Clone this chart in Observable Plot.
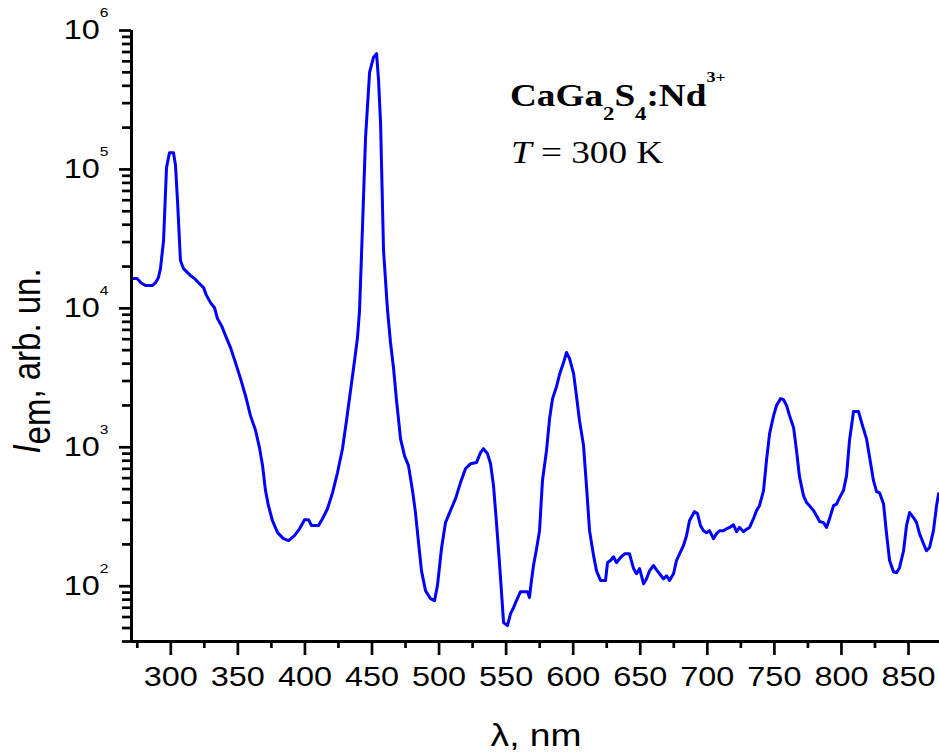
<!DOCTYPE html>
<html>
<head>
<meta charset="utf-8">
<script src="https://cdn.jsdelivr.net/npm/d3@7"></script>
<script src="https://cdn.jsdelivr.net/npm/@observablehq/plot@0.6"></script>
<style>
  html, body { margin: 0; padding: 0; background: #fff; }
  #chart svg { display: block; }
</style>
</head>
<body>
<div id="chart"></div>
<script>
// Emission wavelength (nm)
const wavelength = [
  271.1, 274.8, 277.8, 281.1, 286.4, 288.6, 290.8, 292.3, 294.6, 296.8,
  299.0, 302.0, 303.5, 305.0, 307.2, 309.5, 312.5, 314.7, 317.7, 320.7,
  324.4, 326.6, 329.6, 332.6, 334.8, 337.8, 340.8, 344.5, 348.2, 352.0,
  355.7, 359.4, 363.2, 366.1, 368.4, 370.6, 372.8, 375.8, 379.6, 384.0,
  387.8, 392.2, 396.0, 399.7, 402.7, 404.9, 410.1, 413.1, 416.8, 420.6,
  424.3, 428.0, 431.0, 434.0, 437.0, 439.2, 440.7, 442.9, 445.2, 448.2,
  451.1, 453.4, 454.9, 456.4, 458.6, 461.6, 463.8, 466.1, 468.3, 471.3,
  474.2, 477.2, 480.2, 482.4, 484.7, 486.9, 489.9, 493.6, 496.6, 498.8,
  501.8, 504.8, 508.5, 512.3, 516.0, 519.7, 523.5, 527.9, 530.9, 533.1,
  536.1, 538.4, 540.6, 542.8, 545.1, 548.1, 551.0, 553.3, 555.5, 557.7,
  560.7, 565.9, 567.4, 568.9, 570.4, 572.7, 574.9, 577.1, 580.1, 582.4,
  584.6, 587.6, 589.8, 592.8, 595.0, 597.3, 600.3, 602.5, 604.7, 607.7,
  610.0, 612.2, 615.2, 617.4, 620.4, 624.1, 625.6, 627.8, 630.1, 632.3,
  635.3, 638.3, 642.0, 645.0, 647.2, 649.5, 652.5, 654.7, 656.9, 659.9,
  662.1, 664.4, 667.3, 669.6, 671.8, 674.8, 677.0, 679.3, 682.2, 684.5,
  686.7, 690.4, 692.7, 694.9, 697.1, 699.4, 701.6, 704.6, 706.9, 709.1,
  712.1, 714.3, 716.6, 719.5, 721.8, 724.0, 727.0, 729.2, 731.5, 734.4,
  736.7, 738.9, 741.9, 744.1, 746.4, 749.4, 751.6, 754.6, 756.8, 759.1,
  761.3, 764.3, 766.5, 768.7, 771.7, 774.0, 776.2, 779.2, 781.4, 783.7,
  786.6, 788.9, 791.1, 794.1, 796.3, 798.6, 801.5, 803.8, 806.0, 809.0,
  812.7, 815.7, 818.7, 820.9, 823.9, 826.2, 828.4, 831.4, 833.6, 835.9,
  838.8, 841.1, 843.3, 846.3, 848.5, 850.8, 853.7, 856.0, 858.2, 861.2,
  863.4, 865.7, 868.6, 870.9, 872.4
];
// Emission intensity (arb. un.)
const intensity = [
  16400, 16400, 15300, 14600, 14600, 15300, 16700, 19300, 30800, 103000,
  132000, 132000, 107000, 59700, 22100, 19300, 18100, 17200, 16400, 15300,
  14100, 12400, 11000, 10100, 8440, 7510, 6370, 5220, 4070, 3120,
  2350, 1690, 1320, 995, 738, 488, 380, 296, 243, 220,
  213, 231, 259, 301, 301, 273, 273, 306, 361, 472,
  658, 977, 1560, 2560, 4210, 6170, 9640, 38200, 170000, 499000,
  640000, 682000, 437000, 214000, 26100, 9640, 5680, 3680, 2170, 1150,
  871, 738, 488, 339, 206, 129, 92.9, 81.3, 78.7, 101,
  186, 287, 350, 427, 557, 701, 762, 776, 916, 977,
  900, 762, 530, 287, 145, 54.7, 52.0, 63.4, 70.1, 78.7,
  91.4, 91.4, 82.8, 110, 141, 186, 251, 575, 946, 1610,
  2240, 2740, 3340, 4070, 4810, 4350, 3390, 2320, 1560, 1030,
  513, 251, 166, 129, 110, 110, 148, 153, 163, 148,
  161, 171, 171, 134, 123, 134, 104, 113, 129, 141,
  131, 123, 113, 119, 110, 123, 153, 171, 196, 231,
  296, 344, 333, 273, 251, 243, 251, 220, 239, 251,
  251, 259, 265, 277, 247, 265, 247, 257, 265, 306,
  350, 380, 488, 802, 1250, 1690, 2000, 2240, 2200, 2000,
  1690, 1390, 946, 615, 449, 400, 380, 350, 322, 292,
  287, 265, 306, 380, 390, 434, 488, 625, 1120, 1810,
  1810, 1430, 1150, 857, 575, 480, 470, 390, 239, 153,
  127, 125, 136, 180, 273, 339, 312, 287, 239, 202,
  180, 190, 251, 380, 463
];

const xMajorTicks = [300, 350, 400, 450, 500, 550, 600, 650, 700, 750, 800, 850];
const xMinorTicks = [275, 325, 375, 425, 475, 525, 575, 625, 675, 725, 775, 825];
const yMajorTicks = [1e2, 1e3, 1e4, 1e5, 1e6];
const yExponents  = ["2", "3", "4", "5", "6"];
const yMinorTicks = [
  40, 50, 60, 70, 80, 90,
  200, 300, 400, 500, 600, 700, 800, 900,
  2000, 3000, 4000, 5000, 6000, 7000, 8000, 9000,
  20000, 30000, 40000, 50000, 60000, 70000, 80000, 90000,
  200000, 300000, 400000, 500000, 600000, 700000, 800000, 900000
];
const xDomain = [270.7, 873.1];
const yDomain = [40, 1e6];

const data = wavelength.map((w, i) => ({w, v: intensity[i]}));

const FONT = "'Liberation Sans', Arial, sans-serif";
const SERIF = "'Liberation Serif', 'Times New Roman', serif";

const plot = Plot.plot({
  width: 939,
  height: 753,
  marginLeft: 131,
  marginRight: 0,
  marginTop: 30,
  marginBottom: 112,
  style: {fontFamily: FONT, fontSize: "27px", color: "#000", background: "#fff", overflow: "visible"},
  x: {domain: xDomain},
  y: {type: "log", domain: yDomain},
  marks: [
    Plot.line(data, {x: "w", y: "v", stroke: "#0000ff", strokeWidth: 3}),
    Plot.ruleX([xDomain[0]], {stroke: "#000", strokeWidth: 3}),
    Plot.ruleY([yDomain[0]], {stroke: "#000", strokeWidth: 3}),
    Plot.axisX(xMajorTicks, {tickSize: 14, tickPadding: 11, strokeWidth: 2.7, label: null,
      tickFormat: d => String(d), fontSize: 27}),
    Plot.axisX(xMinorTicks, {tickSize: 7, strokeWidth: 2.7, label: null, tickFormat: () => ""}),
    Plot.axisY(yMajorTicks, {tickSize: 12, tickPadding: 11, strokeWidth: 2.7, label: null, fontSize: 27,
      tickFormat: d => "10^" + yExponents[yMajorTicks.indexOf(d)]}),
    Plot.axisY(yMinorTicks, {tickSize: 9, strokeWidth: 2.7, label: null, tickFormat: () => ""})
  ]
});

document.getElementById("chart").appendChild(plot);

const svg = d3.select(plot);

// superscript exponents on the y tick labels
svg.selectAll('g[aria-label="y-axis tick label"] text').each(function () {
  const t = this.textContent;
  if (!t.includes("^")) return;
  const [base, exp] = t.split("^");
  this.textContent = base;
  d3.select(this).append("tspan").attr("dy", -22).attr("font-size", 13).text(exp);
});

// the reference text is horizontally stretched
svg.selectAll("text").each(function () {
  const tr = this.getAttribute("transform");
  if (tr) this.setAttribute("transform", tr + " scale(1.2,1)");
});

// y-axis title
const yl = svg.append("text")
  .attr("transform", "translate(40,361) scale(1.2,1) rotate(-90)")
  .attr("text-anchor", "middle")
  .attr("font-family", FONT)
  .attr("font-size", 33)
  .attr("fill", "#000");
yl.append("tspan").attr("font-style", "italic").text("I");
yl.append("tspan").attr("dy", 8).text("em");
yl.append("tspan").attr("dy", -8).text(", arb. un.");

// x-axis title
svg.append("text")
  .attr("transform", "translate(536,746) scale(1.2,1)")
  .attr("text-anchor", "middle")
  .attr("font-family", FONT)
  .attr("font-size", 31)
  .attr("fill", "#000")
  .text("λ, nm");

// annotation line 1
const a1 = svg.append("text")
  .attr("transform", "translate(510,106) scale(1.2,1)")
  .attr("text-anchor", "start")
  .attr("font-family", SERIF)
  .attr("font-weight", "bold")
  .attr("font-size", 31)
  .attr("fill", "#000");
a1.append("tspan").text("CaGa");
a1.append("tspan").attr("dy", 14).attr("font-size", 19).text("2");
a1.append("tspan").attr("dy", -14).text("S");
a1.append("tspan").attr("dy", 14).attr("font-size", 19).text("4");
a1.append("tspan").attr("dy", -14).text(":Nd");
a1.append("tspan").attr("dy", -24).attr("font-size", 15).text("3+");

// annotation line 2
const a2 = svg.append("text")
  .attr("transform", "translate(511,163) scale(1.2,1)")
  .attr("text-anchor", "start")
  .attr("font-family", SERIF)
  .attr("font-size", 31)
  .attr("fill", "#000");
a2.append("tspan").attr("font-style", "italic").text("T");
a2.append("tspan").text(" = 300 K");
</script>
</body>
</html>
